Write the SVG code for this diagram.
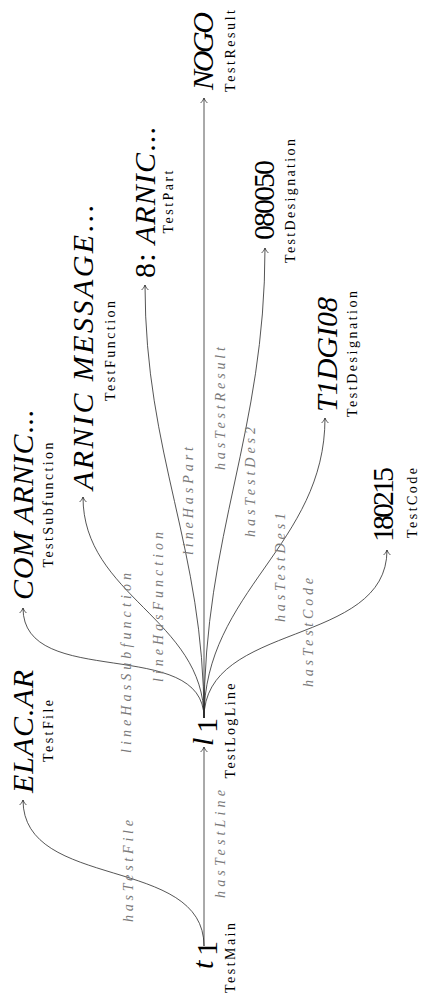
<svg xmlns="http://www.w3.org/2000/svg" width="421" height="1003" viewBox="0 0 421 1003">
<style>
.m{font-family:"Liberation Serif",serif;font-size:30px;font-style:italic;fill:#000}
.n{font-style:normal}
.s{font-family:"Liberation Serif",serif;font-size:14px;fill:#000;text-anchor:middle}
.e{font-family:"Liberation Serif",serif;font-size:14px;font-style:italic;fill:#7a7a7a}
.c{fill:none;stroke:#2a2a2a;stroke-width:0.8}
</style>
<defs>
<marker id="ar" viewBox="-7 -5 8 10" markerWidth="8" markerHeight="10" refX="0" refY="0" orient="auto" markerUnits="userSpaceOnUse">
<path d="M-5,-3.4 C-3,-1.3 -1,-0.3 0,0 C-1,0.3 -3,1.3 -5,3.4" fill="none" stroke="#2a2a2a" stroke-width="0.8"/>
</marker>
</defs>
<rect width="421" height="1003" fill="#fff"/>
<g transform="translate(0 1003) rotate(-90)">
<g id="connectors">
<path class="c" marker-end="url(#ar)" d="M57,204 L256,204"/>
<path class="c" marker-end="url(#ar)" d="M57,204 C148,204 112,23 203,23"/>
<path class="c" marker-end="url(#ar)" d="M285,204 C368,204 312,23 395,23"/>
<path class="c" marker-end="url(#ar)" d="M285,204 C384,204 407,83 506,83"/>
<path class="c" marker-end="url(#ar)" d="M285,204 C456,204 547,145 718,145"/>
<path class="c" marker-end="url(#ar)" d="M285,204 L905,204"/>
<path class="c" marker-end="url(#ar)" d="M285,204 C471,204 569,265 755,265"/>
<path class="c" marker-end="url(#ar)" d="M285,204 C412,204 458,325 585,325"/>
<path class="c" marker-end="url(#ar)" d="M285,204 C382,204 356,387 453,387"/>
<text class="e" x="81" y="133" textLength="102" lengthAdjust="spacing">hasTestFile</text>
<text class="e" x="105" y="225" textLength="108" lengthAdjust="spacing">hasTestLine</text>
<text class="e" x="250" y="131" textLength="180" lengthAdjust="spacing">lineHasSubfunction</text>
<text class="e" x="321" y="163" textLength="150" lengthAdjust="spacing">lineHasFunction</text>
<text class="e" x="448" y="193" textLength="108" lengthAdjust="spacing">lineHasPart</text>
<text class="e" x="533" y="225" textLength="123" lengthAdjust="spacing">hasTestResult</text>
<text class="e" x="466" y="255" textLength="110" lengthAdjust="spacing">hasTestDes2</text>
<text class="e" x="381" y="285" textLength="109" lengthAdjust="spacing">hasTestDes1</text>
<text class="e" x="316" y="313" textLength="109" lengthAdjust="spacing">hasTestCode</text>
</g>
<g id="t1">
<text class="m" x="34" y="213" font-size="32">t</text>
<text class="m n" x="47" y="217" font-size="19">1</text>
<text class="s" x="45" y="235" textLength="70" lengthAdjust="spacing">TestMain</text>
</g>
<g id="l1">
<text class="m" x="257" y="213" font-size="32">l</text>
<text class="m n" x="270" y="217" font-size="19">1</text>
<text class="s" x="272" y="235" textLength="95" lengthAdjust="spacing">TestLogLine</text>
</g>
<g id="testfile">
<text class="m" x="210" y="33" textLength="123" lengthAdjust="spacing">ELAC.AR</text>
<text class="s" x="272" y="53" textLength="62" lengthAdjust="spacing">TestFile</text>
</g>
<g id="subfunction">
<text class="m" x="403" y="33" textLength="190" lengthAdjust="spacing">COM ARNIC<tspan class="n">...</tspan></text>
<text class="s" x="498" y="53" textLength="125" lengthAdjust="spacing">TestSubfunction</text>
</g>
<g id="function">
<text class="m" x="513" y="93" textLength="285" lengthAdjust="spacing">ARNIC MESSAGE<tspan class="n">...</tspan></text>
<text class="s" x="652" y="115" textLength="100" lengthAdjust="spacing">TestFunction</text>
</g>
<g id="part">
<text class="m" x="725" y="155" textLength="151" lengthAdjust="spacing"><tspan class="n">8:</tspan> ARNIC<tspan class="n">...</tspan></text>
<text class="s" x="801" y="173" textLength="63" lengthAdjust="spacing">TestPart</text>
</g>
<g id="result">
<text class="m" x="913" y="213" font-size="28" textLength="78" lengthAdjust="spacing">NOGO</text>
<text class="s" x="952" y="235" textLength="82" lengthAdjust="spacing">TestResult</text>
</g>
<g id="des2">
<text class="m n" x="763" y="274" font-size="26" textLength="80" lengthAdjust="spacing">080050</text>
<text class="s" x="802" y="295" textLength="124" lengthAdjust="spacing">TestDesignation</text>
</g>
<g id="des1">
<text class="m" x="591" y="337" textLength="115" lengthAdjust="spacing">T1DGI08</text>
<text class="s" x="649" y="357" textLength="126" lengthAdjust="spacing">TestDesignation</text>
</g>
<g id="code">
<text class="m n" x="461" y="393" font-size="26" textLength="75" lengthAdjust="spacing">180215</text>
<text class="s" x="500" y="417" textLength="70" lengthAdjust="spacing">TestCode</text>
</g>
</g>
</svg>
